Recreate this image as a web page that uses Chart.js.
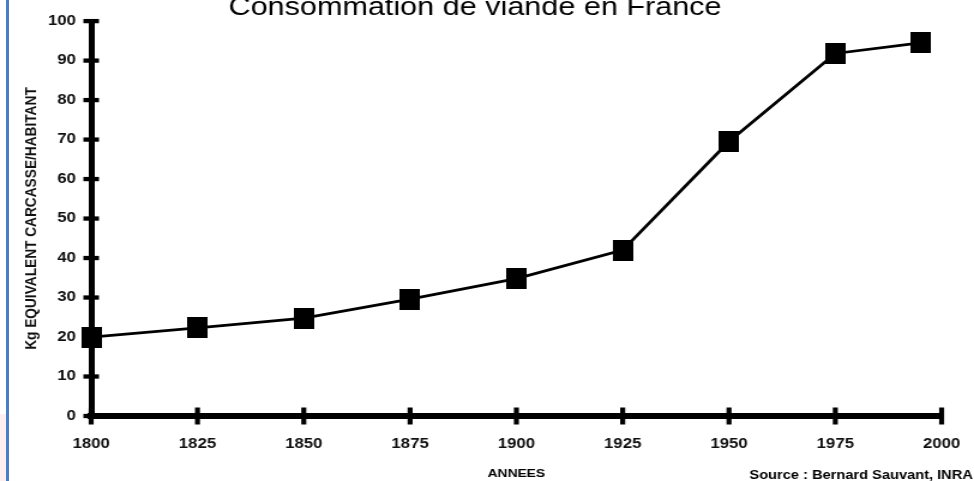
<!DOCTYPE html>
<html>
<head>
<meta charset="utf-8">
<script src="https://cdn.jsdelivr.net/npm/chart.js@4.4.0/dist/chart.umd.min.js"></script>
<style>
html,body{margin:0;padding:0;background:#fff;overflow:hidden;}
#wrap{position:relative;width:974px;height:481px;}
#c{position:absolute;left:0;top:0;}
#edge{position:absolute;left:6px;top:0;width:2.5px;height:481px;background:#4a7cc7;}
#tint{position:absolute;left:0;top:414px;width:6px;height:67px;background:#fcefef;}
</style>
</head>
<body>
<div id="wrap"><canvas id="c" width="812" height="481" style="width:974px;height:481px;"></canvas><div id="tint"></div><div id="edge"></div></div>
<script>
// ---- data ----
const years = [1800, 1825, 1850, 1875, 1900, 1925, 1950, 1975, 1995];
const consumption = [20, 22.3, 24.8, 29.6, 34.8, 42, 69.5, 91.8, 94.5];
const xTicks = [1800, 1825, 1850, 1875, 1900, 1925, 1950, 1975, 2000];
const yTicks = [0, 10, 20, 30, 40, 50, 60, 70, 80, 90, 100];
const titleText = 'Consommation de viande en France';
const xTitle = 'ANNEES';
const yTitle = 'Kg EQUIVALENT CARCASSE/HABITANT';
const sourceText = 'Source : Bernard Sauvant, INRA';

const FAMILY = "'Liberation Sans', Arial, Helvetica, sans-serif";

// square marker image (style)
const marker = document.createElement('canvas');
marker.width = 17; marker.height = 21;
(function(){ const m = marker.getContext('2d'); m.fillStyle = '#000'; m.fillRect(0,0,17,21); })();

// tick marks crossing the axes
const crossTicks = {
  id: 'crossTicks',
  beforeDatasetsDraw(chart) {
    const ctx = chart.ctx, xs = chart.scales.x, ys = chart.scales.y;
    ctx.save();
    ctx.strokeStyle = '#000';
    ctx.lineWidth = 4.2;
    xs.ticks.forEach(t => {
      const px = xs.getPixelForValue(t.value);
      ctx.beginPath(); ctx.moveTo(px, xs.top - 8.5); ctx.lineTo(px, xs.top + 8.5); ctx.stroke();
    });
    ctx.lineWidth = 4.3;
    ys.ticks.forEach(t => {
      const py = ys.getPixelForValue(t.value);
      ctx.beginPath(); ctx.moveTo(ys.right - 6.5, py); ctx.lineTo(ys.right + 6.5, py); ctx.stroke();
    });
    ctx.restore();
  }
};

new Chart(document.getElementById('c'), {
  type: 'line',
  data: {
    datasets: [{
      data: years.map((y, i) => ({x: y, y: consumption[i]})),
      borderColor: '#000',
      borderWidth: 2.8,
      backgroundColor: '#000',
      pointStyle: marker,
      pointRadius: 10,
      tension: 0,
      fill: false,
      clip: false
    }]
  },
  options: {
    responsive: false,
    animation: false,
    events: [],
    layout: { padding: { left: -19, right: 1, top: 0, bottom: 0 } },
    plugins: {
      legend: { display: false },
      tooltip: { enabled: false },
      title: {
        display: true, text: titleText, color: '#000',
        font: { family: FAMILY, size: 25.5, weight: 'normal', lineHeight: 1 },
        padding: { top: -5.5, bottom: 0 }
      },
      subtitle: {
        display: true, position: 'bottom', align: 'end', text: sourceText, color: '#000',
        font: { family: FAMILY, size: 12.2, weight: 'bold', lineHeight: 1 },
        padding: { top: -10, bottom: -1 }
      }
    },
    scales: {
      x: {
        type: 'linear', min: 1800, max: 2000,
        afterBuildTicks: s => { s.ticks = xTicks.map(v => ({ value: v })); },
        afterFit: s => { s.height = 63.8; s.paddingRight = 27; },
        grid: { drawOnChartArea: false, drawTicks: false },
        border: { display: true, width: 6, color: '#000' },
        ticks: {
          callback: v => String(v), color: '#111', padding: 20, maxRotation: 0, autoSkip: false,
          font: { family: FAMILY, size: 14, weight: 'bold' }
        },
        title: {
          display: true, text: xTitle, color: '#000',
          font: { family: FAMILY, size: 11.5, weight: 'bold', lineHeight: 1 },
          padding: { top: 0, bottom: 0 }
        }
      },
      y: {
        type: 'linear', min: 0, max: 100,
        afterBuildTicks: s => { s.ticks = yTicks.map(v => ({ value: v })); },
        afterFit: s => { s.width = 95; },
        grid: { drawOnChartArea: false, drawTicks: false },
        border: { display: true, width: 5, color: '#000' },
        ticks: {
          callback: v => String(v), color: '#111', padding: 12.7, autoSkip: false,
          font: { family: FAMILY, size: 14, weight: 'bold' }
        },
        title: {
          display: true, text: yTitle, color: '#111',
          font: { family: FAMILY, size: 13.7, weight: 'bold', lineHeight: 1 },
          padding: { top: 38.2, bottom: 0 }
        }
      }
    }
  },
  plugins: [crossTicks]
});
</script>
</body>
</html>
